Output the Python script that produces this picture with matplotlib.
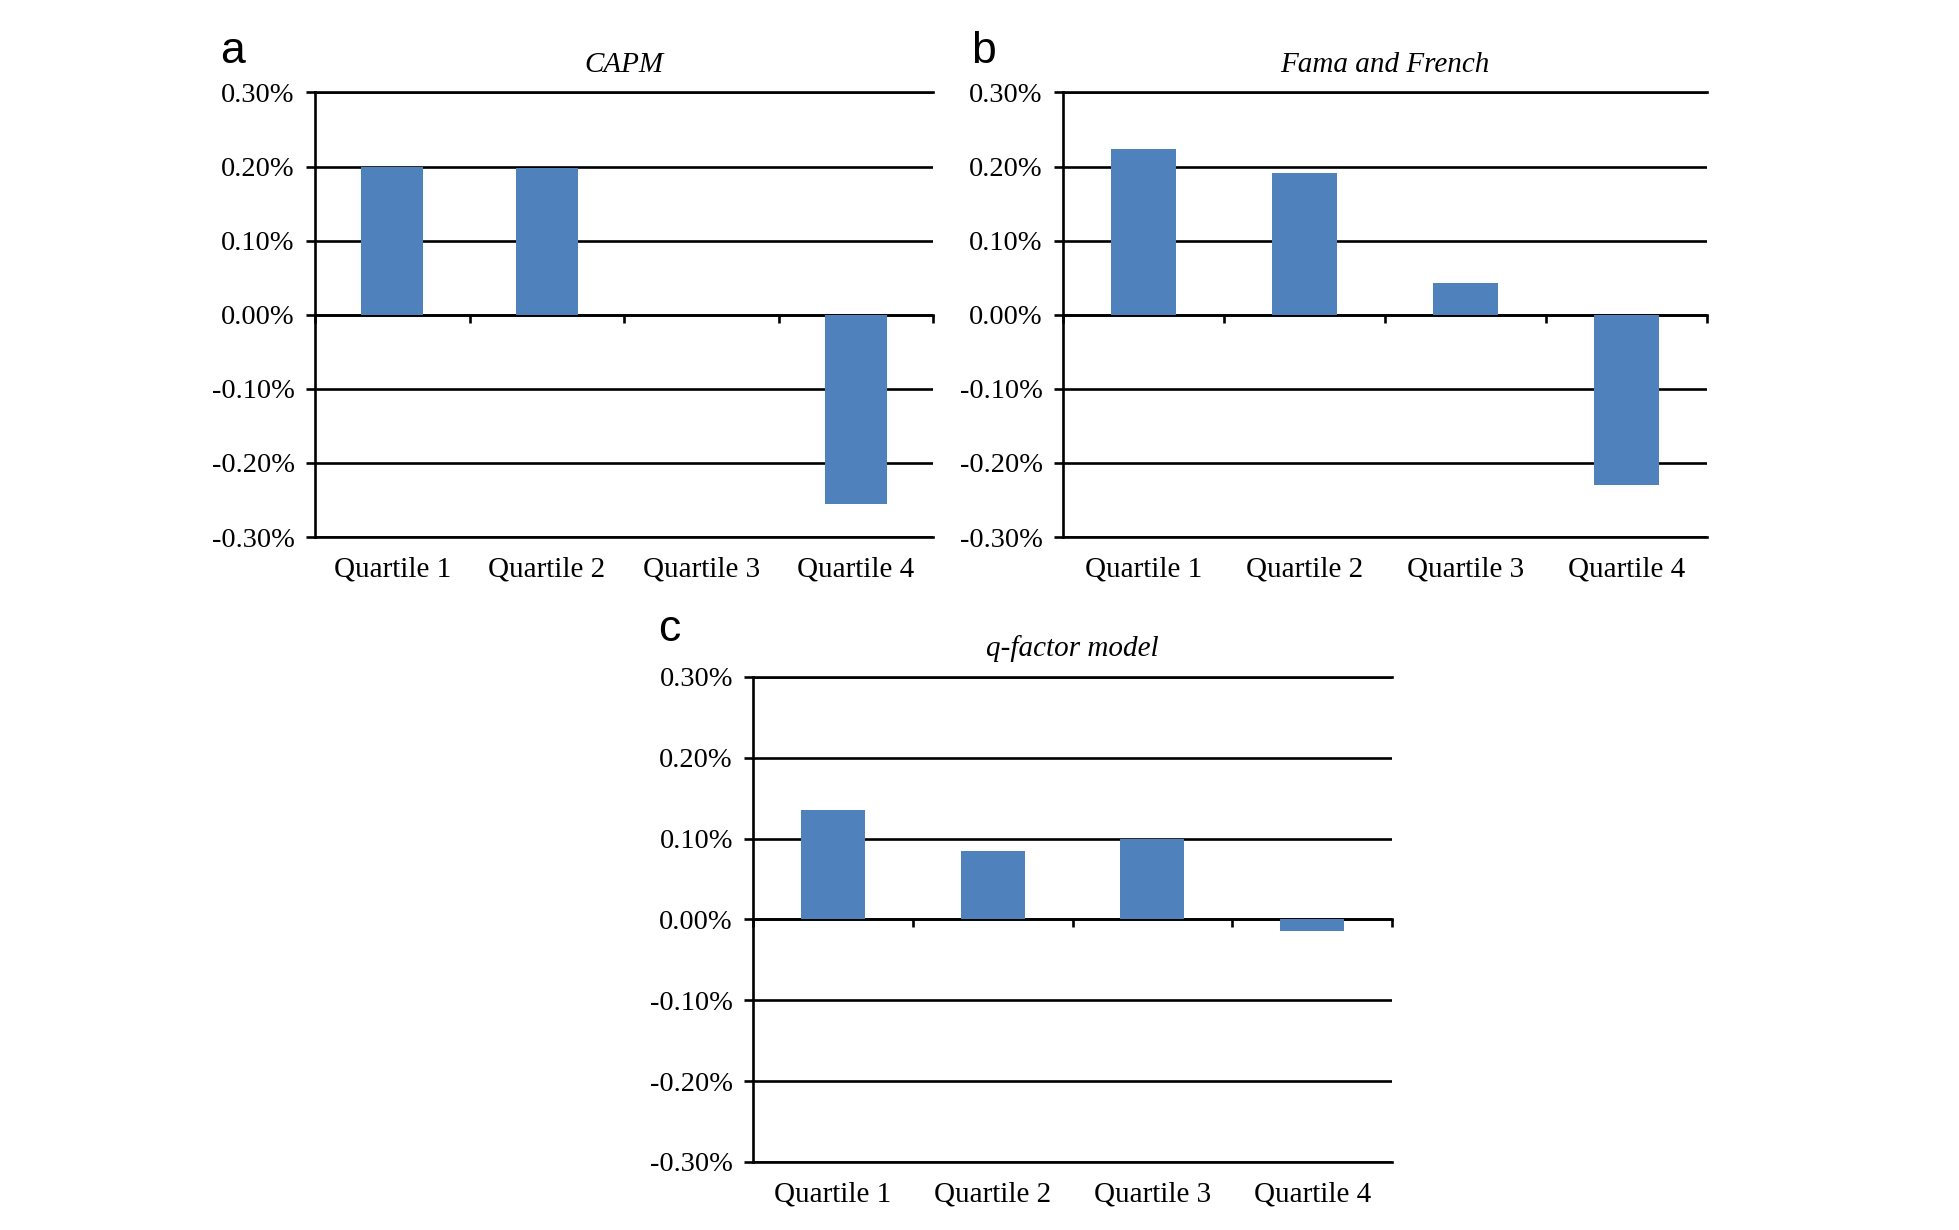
import matplotlib
matplotlib.use("Agg")
import matplotlib.pyplot as plt
from matplotlib.ticker import FuncFormatter

# values in percent
quartiles = ['Quartile 1', 'Quartile 2', 'Quartile 3', 'Quartile 4']
capm = [0.200, 0.198, 0.0, -0.256]
fama_french = [0.224, 0.191, 0.043, -0.230]
q_factor = [0.136, 0.085, 0.100, -0.014]

titles = ['CAPM', 'Fama and French', 'q-factor model']
letters = ['a', 'b', 'c']
yticks = [-0.3, -0.2, -0.1, 0.0, 0.1, 0.2, 0.3]

bar_color = '#4F81BD'
serif = 'Liberation Serif'
lw = 1.9

fig = plt.figure(figsize=(19.59, 12.30), dpi=100)

# [left, bottom, width, height] in figure fractions
rects = [
    [0.1608, 0.5634, 0.3155, 0.3614],
    [0.5426, 0.5634, 0.3287, 0.3614],
    [0.3844, 0.0553, 0.3262, 0.3943],
]
letter_pos = [(220 / 1959, 1 - 63 / 1230), (971 / 1959, 1 - 63 / 1230), (658 / 1959, 1 - 641 / 1230)]

for rect, vals, title, letter, lp in zip(rects, [capm, fama_french, q_factor], titles, letters, letter_pos):
    ax = fig.add_axes(rect)
    x = range(len(quartiles))
    ax.bar(x, vals, width=0.4, color=bar_color, zorder=2)
    ax.set_xlim(-0.5, len(quartiles) - 0.5)
    ax.set_ylim(-0.3, 0.3)
    ax.set_yticks(yticks)
    ax.yaxis.set_major_formatter(FuncFormatter(lambda v, p: f'{v:.2f}%'))
    ax.set_xticks(list(x))
    ax.set_xticklabels(quartiles)
    ax.set_axisbelow(True)
    ax.yaxis.grid(True, color='black', linewidth=lw)

    for s in ['top', 'bottom', 'left']:
        ax.spines[s].set_linewidth(lw)
        ax.spines[s].set_color('black')
    ax.spines['right'].set_visible(False)

    ax.tick_params(axis='x', length=0, pad=14, labelsize=21)
    ax.tick_params(axis='y', direction='out', length=6.5, width=lw, pad=8, labelsize=20.5)
    for lab in ax.get_xticklabels() + ax.get_yticklabels():
        lab.set_fontfamily(serif)

    # category boundary ticks hanging from the zero line
    sec = ax.secondary_xaxis(0, transform=ax.transData)
    sec.set_xticks([i + 0.5 for i in range(-1, len(quartiles))])
    sec.tick_params(direction='out', length=6, width=lw, labelbottom=False)
    sec.spines['bottom'].set_linewidth(lw)
    sec.spines['bottom'].set_color('black')

    ax.set_title(title, fontsize=21, fontstyle='italic', fontfamily=serif, pad=15)
    fig.text(lp[0], lp[1], letter, fontsize=32, fontfamily='Liberation Sans',
             ha='left', va='baseline')

fig.savefig('out.png', dpi=100, facecolor='white')
